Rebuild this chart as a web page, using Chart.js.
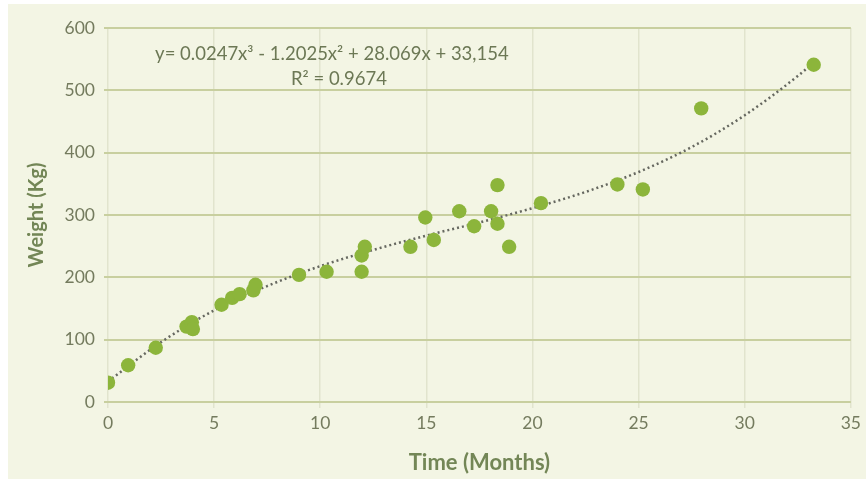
<!DOCTYPE html>
<html>
<head>
<meta charset="utf-8">
<script src="https://cdn.jsdelivr.net/npm/chart.js@4/dist/chart.umd.min.js"></script>
<style>
  html, body { margin: 0; padding: 0; background: #ffffff; }
  #wrap {
    position: absolute; left: 8px; top: 4px;
    width: 858px; height: 475px;
    background: #f3f5e4;
  }
</style>
</head>
<body>
<div id="wrap"><canvas id="chart" width="858" height="475"></canvas></div>
<script>
// Datos: tiempo (meses) y peso (kg)
const monthValues = [0, 0.95, 2.25, 3.7, 3.95, 4.0, 5.35, 5.85, 6.2, 6.85, 6.95, 9.0, 10.3, 11.95, 11.95, 12.1,
    14.25, 14.95, 15.35, 16.55, 17.25, 18.05, 18.35, 18.35, 18.9, 20.4, 24.0, 25.2, 27.95, 33.25];
const weightValues = [31, 59, 87, 121, 128, 117, 156, 167, 173, 179, 188, 204, 209, 209, 235, 249,
    249, 296, 260, 306, 282, 306, 348, 286, 249, 319, 349, 341, 471, 541];

const trendMonths = [0, 2.5, 5, 7.5, 10, 12.5, 15, 17.5, 20, 22.5, 25, 27.5, 30, 32.5, 33.3];
const trendWeights = [33, 96, 147, 186, 218, 244, 267, 288, 311, 337, 369, 409, 460, 523, 546];

const xTicks = [0, 5, 10, 15, 20, 25, 30, 35];
const yTicks = [0, 100, 200, 300, 400, 500, 600];

const equationLines = ['y= 0.0247x³ - 1.2025x² + 28.069x + 33,154', 'R² = 0.9674'];

const tickColor = '#747b5e';
const titleColor = '#738656';
const pointColor = '#8cb53b';

// Plugin para escribir la ecuación de la tendencia
const equationPlugin = {
    id: 'equation',
    afterDraw(chart) {
        const ctx = chart.ctx;
        const x = chart.scales.x.getPixelForValue(10.55);
        const y1 = chart.scales.y.getPixelForValue(558);
        const y2 = chart.scales.y.getPixelForValue(518);
        ctx.save();
        ctx.font = '18.5px Lato';
        ctx.fillStyle = '#6c7855';
        ctx.textAlign = 'center';
        ctx.textBaseline = 'middle';
        ctx.fillText(equationLines[0], x, y1);
        ctx.fillText(equationLines[1], x + 7, y2);
        ctx.restore();
    }
};

const points = monthValues.map((m, i) => ({ x: m, y: weightValues[i] }));
const trend = trendMonths.map((m, i) => ({ x: m, y: trendWeights[i] }));

new Chart(document.getElementById('chart'), {
    type: 'scatter',
    data: {
        datasets: [{
            label: 'Weight',
            data: points,
            backgroundColor: pointColor,
            borderWidth: 0,
            pointRadius: 7.2,
            order: 1
        }, {
            label: 'Trend',
            data: trend,
            showLine: true,
            borderColor: '#666860',
            borderWidth: 2.5,
            borderDash: [2, 3],
            pointRadius: 0,
            tension: 0.4,
            cubicInterpolationMode: 'monotone',
            order: 2
        }]
    },
    options: {
        responsive: false,
        animation: false,
        layout: { padding: { left: 0, top: 24, right: 11, bottom: 0 } },
        plugins: {
            legend: { display: false },
            tooltip: { enabled: false }
        },
        scales: {
            x: {
                type: 'linear',
                min: 0,
                max: 35,
                afterBuildTicks: s => { s.ticks = xTicks.map(v => ({ value: v })); },
                afterFit: s => { s.height = 77; },
                border: { display: false },
                grid: { color: '#e1e4cd', lineWidth: 1.5, tickLength: 6 },
                ticks: { color: tickColor, font: { family: 'Lato', size: 17.5 }, padding: 5, maxRotation: 0 },
                title: {
                    display: true,
                    text: 'Time (Months)',
                    color: titleColor,
                    font: { family: 'Lato', size: 22, weight: 'bold' },
                    padding: { top: 0, bottom: 3 }
                }
            },
            y: {
                min: 0,
                max: 600,
                afterBuildTicks: s => { s.ticks = yTicks.map(v => ({ value: v })); },
                afterFit: s => { s.width = 100; },
                border: { display: false },
                grid: { color: '#c8cf9f', lineWidth: 2, tickLength: 4 },
                ticks: { color: tickColor, font: { family: 'Lato', size: 17.5 }, padding: 9 },
                title: {
                    display: true,
                    text: 'Weight (Kg)',
                    color: titleColor,
                    font: { family: 'Lato', size: 20, weight: 'bold' },
                    padding: { top: 17, bottom: 0 }
                }
            }
        }
    },
    plugins: [equationPlugin]
});
</script>
</body>
</html>
